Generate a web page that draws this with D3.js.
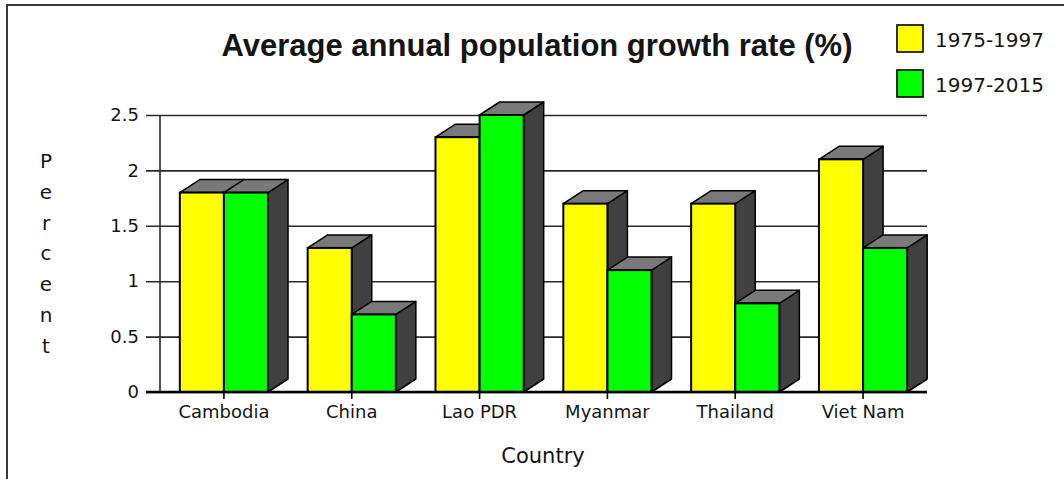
<!DOCTYPE html>
<html>
<head>
<meta charset="utf-8">
<script src="https://cdn.jsdelivr.net/npm/d3@7"></script>
<style>
  html, body { margin: 0; padding: 0; background: #fff; }
  svg { display: block; }
  text { fill: #151515; }
</style>
</head>
<body>
<svg id="chart" width="1064" height="479"></svg>
<script>
// Average annual population growth rate (%), by country and period
const countries = ["Cambodia", "China", "Lao PDR", "Myanmar", "Thailand", "Viet Nam"];
const rate1975to1997 = [1.8, 1.3, 2.3, 1.7, 1.7, 2.1];
const rate1997to2015 = [1.8, 0.7, 2.5, 1.1, 0.8, 1.3];
const seriesNames = ["1975-1997", "1997-2015"];
const seriesColors = ["#ffff00", "#00ff00"];
const yTicks = [0, 0.5, 1, 1.5, 2, 2.5];
const yTickLabels = ["0", "0.5", "1", "1.5", "2", "2.5"];
const titleText = "Average annual population growth rate (%)";
const yTitle = "Percent";
const xTitle = "Country";

const svg = d3.select("#chart");
const labelFont = "'DejaVu Sans', Verdana, sans-serif";

const plot = { left: 160, right: 927, top: 115, bottom: 392 };
const depth = { dx: 20, dy: 13 };

const x0 = d3.scaleBand()
  .domain(countries)
  .range([plot.left, plot.right])
  .paddingInner(0.31)
  .paddingOuter(0.155);
const x1 = d3.scaleBand()
  .domain(seriesNames)
  .range([0, x0.bandwidth()]);
const y = d3.scaleLinear()
  .domain([0, 2.5])
  .range([plot.bottom, plot.top]);

// frame along the top and left edges
svg.append("path")
  .attr("d", "M7,479 L7,5 L1064,5")
  .attr("fill", "none")
  .attr("stroke", "#3a3a3a")
  .attr("stroke-width", 2);

// title
svg.append("text")
  .attr("x", 537)
  .attr("y", 56)
  .attr("text-anchor", "middle")
  .attr("font-family", "'Liberation Sans', Arial, sans-serif")
  .attr("font-weight", "bold")
  .attr("font-size", 31)
  .text(titleText);

// horizontal grid lines with tick stubs
const yAxis = d3.axisLeft(y)
  .tickValues(yTicks)
  .tickFormat((d, i) => yTickLabels[i])
  .tickSize(-(plot.right - plot.left))
  .tickPadding(21);
const gy = svg.append("g")
  .attr("transform", `translate(${plot.left},0)`)
  .call(yAxis);
gy.select(".domain").remove();
gy.selectAll(".tick line")
  .attr("x1", -14)
  .attr("stroke", "#2a2a2a")
  .attr("stroke-width", 1.6);
gy.selectAll(".tick text")
  .attr("font-family", labelFont)
  .attr("font-size", 18)
  .attr("fill", "#151515");

// left axis line
svg.append("line")
  .attr("x1", plot.left).attr("x2", plot.left)
  .attr("y1", y(2.5)).attr("y2", y(0))
  .attr("stroke", "#2a2a2a")
  .attr("stroke-width", 1.6);

// 3D bars
const rows = countries.map((c, i) => ({
  country: c,
  values: [rate1975to1997[i], rate1997to2015[i]]
}));

const groups = svg.append("g").selectAll("g")
  .data(rows)
  .join("g")
  .attr("transform", d => `translate(${x0(d.country)},0)`);

groups.each(function(row) {
  const g = d3.select(this);
  row.values.forEach((v, k) => {
    const a = x1(seriesNames[k]);
    const b = a + x1.bandwidth();
    const t = y(v);
    const base = y(0);
    const { dx, dy } = depth;
    g.append("polygon")
      .attr("points", [[b, t], [b + dx, t - dy], [b + dx, base - dy], [b, base]].join(" "))
      .attr("fill", "#404040").attr("stroke", "#000").attr("stroke-width", 1.5)
      .attr("stroke-linejoin", "round");
    g.append("polygon")
      .attr("points", [[a, t], [a + dx, t - dy], [b + dx, t - dy], [b, t]].join(" "))
      .attr("fill", "#797979").attr("stroke", "#000").attr("stroke-width", 1.5)
      .attr("stroke-linejoin", "round");
    g.append("rect")
      .attr("x", a).attr("y", t)
      .attr("width", b - a).attr("height", base - t)
      .attr("fill", seriesColors[k]).attr("stroke", "#000").attr("stroke-width", 2);
  });
});

// category axis
const xAxis = d3.axisBottom(x0).tickSize(7).tickPadding(6).tickSizeOuter(0);
const gx = svg.append("g")
  .attr("transform", `translate(0,${plot.bottom})`)
  .call(xAxis);
gx.select(".domain").remove();
gx.selectAll(".tick line").attr("stroke", "#000").attr("stroke-width", 1.6);
gx.selectAll(".tick text")
  .attr("font-family", labelFont)
  .attr("font-size", 18)
  .attr("fill", "#151515");
svg.append("line")
  .attr("x1", plot.left - 14).attr("x2", plot.right)
  .attr("y1", plot.bottom).attr("y2", plot.bottom)
  .attr("stroke", "#000").attr("stroke-width", 2.4);

// axis titles
svg.append("text")
  .attr("x", 543).attr("y", 463)
  .attr("text-anchor", "middle")
  .attr("font-family", labelFont)
  .attr("font-size", 21)
  .text(xTitle);

svg.append("g").selectAll("text")
  .data(yTitle.split(""))
  .join("text")
  .attr("x", 46)
  .attr("y", (d, i) => 168 + i * 30.8)
  .attr("text-anchor", "middle")
  .attr("font-family", labelFont)
  .attr("font-size", 20)
  .text(d => d);

// legend
const legend = svg.append("g").selectAll("g")
  .data(seriesNames)
  .join("g")
  .attr("transform", (d, i) => `translate(897,${25 + i * 45})`);
legend.append("rect")
  .attr("width", 26).attr("height", 27)
  .attr("fill", (d, i) => seriesColors[i])
  .attr("stroke", "#000").attr("stroke-width", 1.6);
legend.append("text")
  .attr("x", 38).attr("y", 21.5)
  .attr("font-family", labelFont)
  .attr("font-size", 20)
  .text(d => d);
</script>
</body>
</html>
